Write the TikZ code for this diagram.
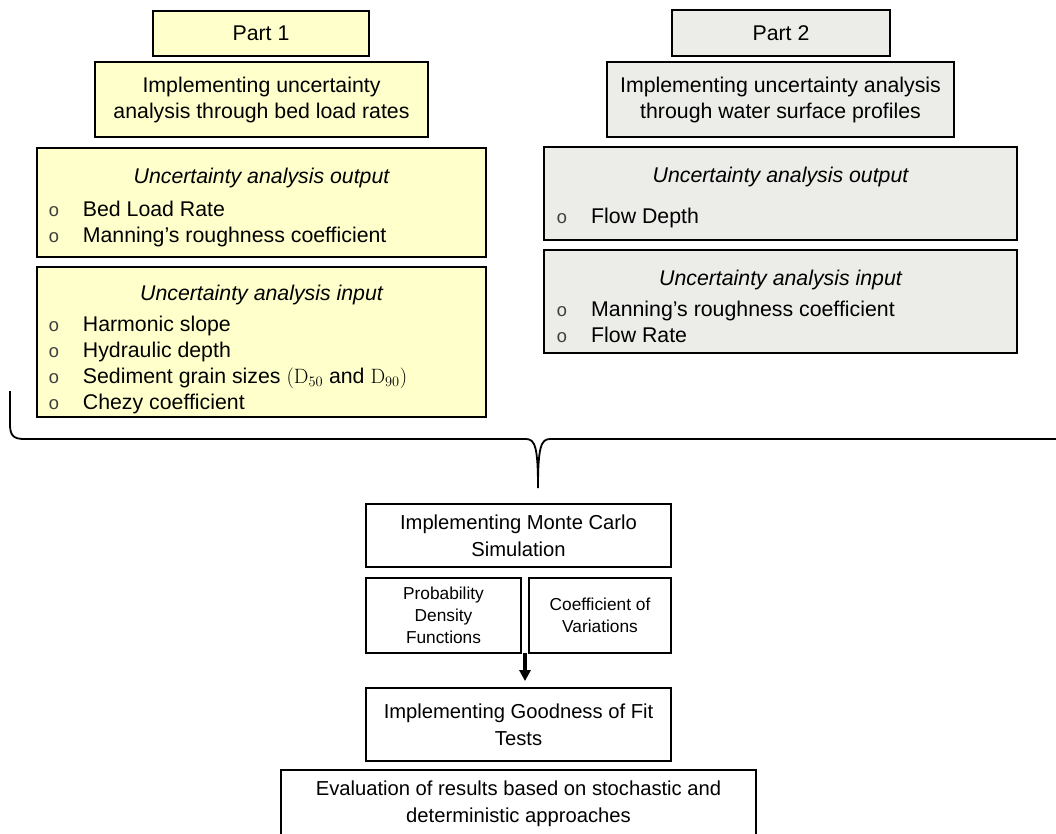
\documentclass[tikz,border=0pt]{standalone}
\usepackage[no-math]{fontspec}
\setmainfont{Liberation Sans}
\setmonofont{Liberation Mono}
\usetikzlibrary{arrows.meta}
\definecolor{ylw}{HTML}{FFFFCC}
\definecolor{gry}{HTML}{ECEDE8}
\begin{document}
\begin{tikzpicture}[x=1pt,y=-1pt,
  box/.style={draw=black, line width=1.8pt, inner sep=0pt, align=center,
    font=\fontsize{21.3}{26}\selectfont},
  ybox/.style={box, fill=ylw},
  gbox/.style={box, fill=gry},
  wbox/.style={box, fill=white, font=\fontsize{20.2}{26.7}\selectfont},
  sbox/.style={box, fill=white, font=\fontsize{17.3}{22}\selectfont},
  hd/.style={anchor=base, inner sep=0pt, font=\fontsize{21.3}{26}\selectfont\itshape},
  lst/.style={anchor=base west, inner sep=0pt, font=\fontsize{21.3}{26}\selectfont},
  bul/.style={anchor=base, inner sep=0pt, text=black!75, font=\fontsize{18.5}{26}\selectfont\ttfamily},
  brace/.style={draw=black, line width=1.8pt},
  arr/.style={draw=black, line width=3.5pt, -{Triangle[length=11pt,width=11pt]}}]
\clip (0,0) rectangle (1056,834);
\fill[white] (0,0) rectangle (1056,834);

% ---------- Part 1 ----------
\node[ybox, minimum width=216pt, minimum height=45pt] (p1) at (261,33.5) {Part 1};
\node[ybox, minimum width=333pt, minimum height=75pt] (i1) at (261.5,99.5)
  {Implementing uncertainty\\analysis through bed load rates};
\node[ybox, minimum width=449pt, minimum height=109pt] (o1) at (261.5,202.5) {};
\node[ybox, minimum width=449pt, minimum height=150pt] (n1) at (261.5,342) {};

\node[hd] (o1h) at (261.5,184) {Uncertainty analysis output};
\node[bul] (o1ab) at (54,217) {o};
\node[lst] (o1a) at (82.7,217) {Bed Load Rate};
\node[bul] (o1bb) at (54,243) {o};
\node[lst] (o1b) at (82.7,243) {Manning’s roughness coefficient};

\node[hd] (n1h) at (261.5,300) {Uncertainty analysis input};
\node[bul] (n1ab) at (54,331) {o};
\node[lst] (n1a) at (82.7,331) {Harmonic slope};
\node[bul] (n1bb) at (54,357) {o};
\node[lst] (n1b) at (82.7,357) {Hydraulic depth};
\node[bul] (n1cb) at (54,383) {o};
\node[lst] (n1c) at (82.7,383) {Sediment grain sizes $(\mathrm{D}_{50}$ and $\mathrm{D}_{90})$};
\node[bul] (n1db) at (54,409) {o};
\node[lst] (n1d) at (82.7,409) {Chezy coefficient};

% ---------- Part 2 ----------
\node[gbox, minimum width=218pt, minimum height=46pt] (p2) at (781,33) {Part 2};
\node[gbox, minimum width=347pt, minimum height=75pt] (i2) at (780.5,99.5)
  {Implementing uncertainty analysis\\through water surface profiles};
\node[gbox, minimum width=473pt, minimum height=93pt] (o2) at (780.5,193.5) {};
\node[gbox, minimum width=473pt, minimum height=103pt] (n2) at (780.5,301.5) {};

\node[hd] (o2h) at (780.5,183) {Uncertainty analysis output};
\node[bul] (o2ab) at (562,223) {o};
\node[lst] (o2a) at (591,223) {Flow Depth};

\node[hd] (n2h) at (780.5,285) {Uncertainty analysis input};
\node[bul] (n2ab) at (562,316) {o};
\node[lst] (n2a) at (591,316) {Manning’s roughness coefficient};
\node[bul] (n2bb) at (562,342) {o};
\node[lst] (n2b) at (591,342) {Flow Rate};

% ---------- Brace ----------
\coordinate (bl) at (10,391);
\coordinate (bt) at (538,488);
\coordinate (br) at (1070,439);
\draw[brace] (bl) -- (10,424) .. controls (10,435) and (13,439) .. (24,439)
  -- (526,439) .. controls (535,439) and (538,447) .. (bt)
  .. controls (538,447) and (541,439) .. (550,439) -- (br);

% ---------- Lower flow ----------
\node[wbox, minimum width=305pt, minimum height=63pt] (mc) at (518.5,535.5)
  {Implementing Monte Carlo\\Simulation};
\node[sbox, minimum width=155pt, minimum height=75pt] (pdf) at (443.5,615.5)
  {Probability\\Density\\Functions};
\node[sbox, minimum width=142pt, minimum height=75pt] (cov) at (600,615.5)
  {Coefficient of\\Variations};
\node[wbox, minimum width=305pt, minimum height=73pt] (gof) at (518.5,724.5)
  {Implementing Goodness of Fit\\Tests};
\node[wbox, minimum width=475pt, minimum height=67pt] (ev) at (518.5,803.5)
  {Evaluation of results based on stochastic and\\deterministic approaches};

\coordinate (a1) at (525,653);
\draw[arr] (a1) -- ([yshift=6pt]a1 |- gof.north);
\end{tikzpicture}
\end{document}
